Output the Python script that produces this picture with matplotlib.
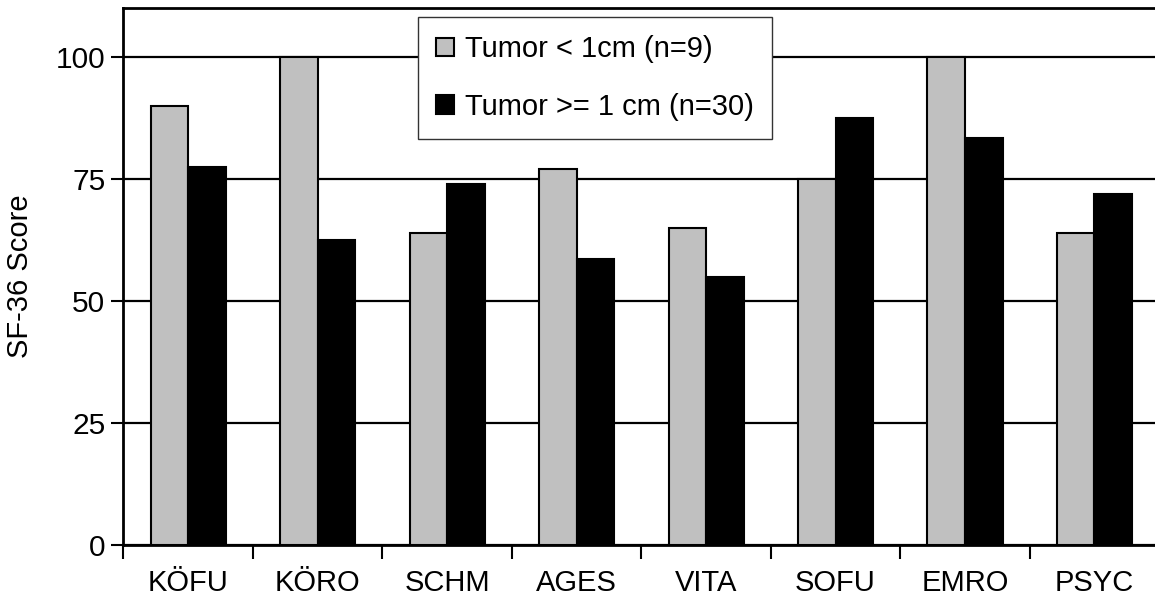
import matplotlib as mpl
mpl.use('Agg')
import matplotlib.pyplot as plt
import numpy as np

plt.rcParams['font.family'] = ['Liberation Sans', 'DejaVu Sans']

categories = ['KÖFU', 'KÖRO', 'SCHM', 'AGES', 'VITA', 'SOFU', 'EMRO', 'PSYC']
small_tumor = [90, 100, 64, 77, 65, 75, 100, 64]
large_tumor = [77.5, 62.5, 74, 58.5, 55, 87.5, 83.3, 72]
labels = ['Tumor < 1cm (n=9)', 'Tumor >= 1 cm (n=30)']
yticks = [0, 25, 50, 75, 100]

fig = plt.figure(figsize=(11.55, 6.03), dpi=100)
ax = fig.add_axes([0.1069, 0.0962, 0.8967, 0.8905])

x = np.arange(len(categories))
w = 0.29
ax.bar(x - w / 2, small_tumor, w, color='#c0c0c0', edgecolor='black',
       linewidth=1.5, label=labels[0], zorder=3)
ax.bar(x + w / 2, large_tumor, w, color='black', edgecolor='black',
       linewidth=1.5, label=labels[1], zorder=3)

ax.set_xlim(-0.5, len(categories) - 0.5)
ax.set_ylim(0, 110)
ax.set_yticks(yticks)
ax.tick_params(axis='y', labelsize=21.5, length=9, width=1.5, direction='out', pad=4)
ax.yaxis.grid(True, color='black', linewidth=1.6, zorder=0)
ax.set_axisbelow(True)

ax.set_xticks(x)
ax.set_xticklabels(categories, fontsize=21)
ax.tick_params(axis='x', length=0, pad=17)
ax.set_xticks(np.arange(len(categories) + 1) - 0.5, minor=True)
ax.tick_params(axis='x', which='minor', length=10, width=1.5, direction='out')

for s in ax.spines.values():
    s.set_linewidth(2)

ax.set_ylabel('SF-36 Score', fontsize=21, labelpad=16)

leg = ax.legend(loc='upper left', bbox_to_anchor=(0.284, 0.983), borderaxespad=0,
                fontsize=21, frameon=True, fancybox=False, handlelength=0.62,
                handleheight=0.62, handletextpad=0.4, labelspacing=1.02,
                borderpad=0.62)
leg.get_frame().set_edgecolor('#333333')
leg.get_frame().set_linewidth(1.0)
leg.get_frame().set_alpha(1)
leg.set_zorder(5)

plt.savefig('out.png', dpi=100)
plt.close()
